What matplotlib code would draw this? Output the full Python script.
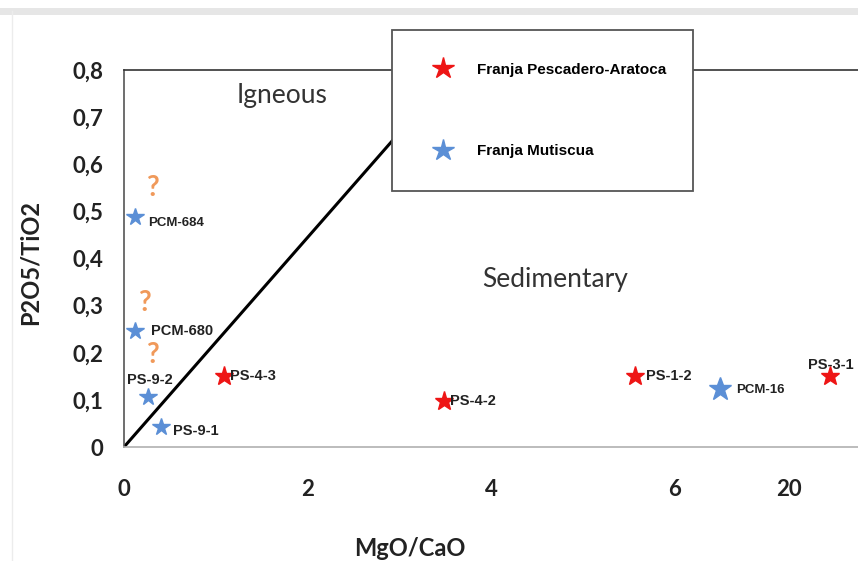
import matplotlib.pyplot as plt
from matplotlib.lines import Line2D
from matplotlib.patches import Rectangle

# data
red_names = ['PS-4-3', 'PS-4-2', 'PS-1-2', 'PS-3-1']
red_x = [1.09, 3.49, 5.57, 7.70]
red_y = [0.151, 0.098, 0.151, 0.151]

blue_names = ['PCM-684', 'PCM-680', 'PS-9-2', 'PS-9-1', 'PCM-16']
blue_x = [0.12, 0.12, 0.26, 0.40, 6.50]
blue_y = [0.488, 0.246, 0.106, 0.042, 0.123]

qmark_x = [0.31, 0.22, 0.31]
qmark_y = [0.55, 0.305, 0.195]

# boundary igneous / sedimentary
line_x = [0, 3.6]
line_y = [0, 0.8]

xtick_pos = [0, 2, 4, 6, 7.25]
xtick_lab = ['0', '2', '4', '6', '20']
ytick_pos = [0, 0.1, 0.2, 0.3, 0.4, 0.5, 0.6, 0.7, 0.8]
ytick_lab = ['0', '0,1', '0,2', '0,3', '0,4', '0,5', '0,6', '0,7', '0,8']

RED = '#ee1515'
BLUE = '#5b8fd6'
ORANGE = '#f0995a'

fig = plt.figure(figsize=(8.58, 5.61), dpi=100)
ax = fig.add_axes([124/858, 1-447/561, 734/858, 377/561])
ax.set_xlim(0, 8)
ax.set_ylim(0, 0.8)

ax.plot(line_x, line_y, color='black', lw=2.2, zorder=2)

ax.plot(red_x, red_y, '*', color=RED, ms=14, zorder=3)
ax.plot(blue_x[:4], blue_y[:4], '*', color=BLUE, ms=13, zorder=3)
ax.plot(blue_x[4:], blue_y[4:], '*', color=BLUE, ms=17, zorder=3)

lab = dict(fontsize=10.5, fontweight='bold', family='Liberation Sans', color='#222222')
small = dict(fontsize=9.5, fontweight='bold', family='Liberation Sans', color='#222222')
# red labels
ax.text(red_x[0] + 0.06, red_y[0], red_names[0], ha='left', va='center', **lab)
ax.text(red_x[1] + 0.06, red_y[1], red_names[1], ha='left', va='center', **lab)
ax.text(red_x[2] + 0.12, red_y[2], red_names[2], ha='left', va='center', **lab)
ax.text(red_x[3], red_y[3] + 0.008, red_names[3], ha='center', va='bottom', **lab)
# blue labels
ax.text(blue_x[0] + 0.14, blue_y[0] - 0.013, blue_names[0], ha='left', va='center', **small)
ax.text(blue_x[1] + 0.17, blue_y[1], blue_names[1], ha='left', va='center', **lab)
ax.text(blue_x[2] + 0.02, blue_y[2] + 0.022, blue_names[2], ha='center', va='bottom', **lab)
ax.text(blue_x[3] + 0.13, blue_y[3] - 0.008, blue_names[3], ha='left', va='center', **lab)
ax.text(blue_x[4] + 0.17, blue_y[4] - 0.003, blue_names[4], ha='left', va='center', **small)

for qx, qy in zip(qmark_x, qmark_y):
    ax.text(qx, qy, '?', color=ORANGE, fontsize=20, family='Lato', fontweight='bold',
            ha='center', va='center')

ax.text(1.72, 0.745, 'Igneous', fontsize=19, family='Lato', color='#333333',
        ha='center', va='center')
ax.text(4.7, 0.355, 'Sedimentary', fontsize=19, family='Lato', color='#333333',
        ha='center', va='center')

ax.set_xticks(xtick_pos)
ax.set_xticklabels(xtick_lab)
ax.set_yticks(ytick_pos)
ax.set_yticklabels(ytick_lab)
ax.tick_params(length=0, labelsize=16)
ax.tick_params(axis='x', pad=23)
ax.tick_params(axis='y', pad=15)
for t in ax.get_xticklabels() + ax.get_yticklabels():
    t.set_family('Lato')
    t.set_fontweight('bold')
    t.set_color('#222222')

ax.set_xlabel('MgO/CaO', fontsize=17, family='Lato', fontweight='bold', color='#222222')
ax.set_ylabel('P2O5/TiO2', fontsize=17, family='Lato', fontweight='bold', color='#222222')
ax.xaxis.set_label_coords(0.39, -0.238)
ax.yaxis.set_label_coords(-0.112, 0.49)

ax.spines['right'].set_visible(False)
ax.spines['top'].set_color('#333333')
ax.spines['left'].set_color('#555555')
ax.spines['bottom'].set_color('#b0b0b0')
for s in ['top', 'left', 'bottom']:
    ax.spines[s].set_linewidth(1.2)

# legend box
box = Rectangle((392/858, 1-191/561), 301/858, 161/561, transform=fig.transFigure,
                facecolor='white', edgecolor='#555555', lw=1.3, zorder=5)
fig.patches.append(box)
handles = [Line2D([], [], ls='none', marker='*', color=RED, ms=16),
           Line2D([], [], ls='none', marker='*', color=BLUE, ms=16)]
leg = fig.legend(handles, ['Franja Pescadero-Aratoca', 'Franja Mutiscua'],
                 loc='upper left', bbox_to_anchor=(420/858, 1-55/561), frameon=False,
                 labelspacing=4.4, handletextpad=1.2, borderpad=0,
                 prop={'family': 'Liberation Sans', 'weight': 'bold', 'size': 11})
leg.set_zorder(6)

# faint frame of the screenshot
fig.add_artist(Line2D([0, 1], [1-11/561, 1-11/561], transform=fig.transFigure,
                      color='#e6e6e6', lw=5))
fig.add_artist(Line2D([12/858, 12/858], [0, 1-11/561], transform=fig.transFigure,
                      color='#ececec', lw=1))

plt.savefig('out.png', dpi=100)
